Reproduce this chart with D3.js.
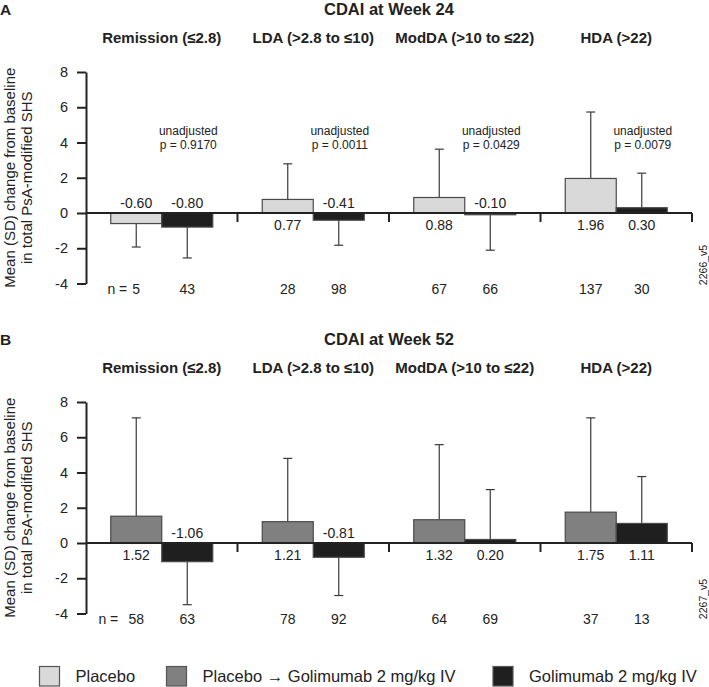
<!DOCTYPE html>
<html><head><meta charset="utf-8">
<script src="https://cdn.jsdelivr.net/npm/d3@7/dist/d3.min.js"></script>
<style>
html,body{margin:0;padding:0;background:#fff;}
text{font-family:"Liberation Sans",Arial,Helvetica,sans-serif;fill:#222;}
</style></head>
<body>
<svg id="chart" width="709" height="687"></svg>
<script>
// ---------------- data ----------------
const groups = ["Remission (≤2.8)", "LDA (>2.8 to ≤10)", "ModDA (>10 to ≤22)", "HDA (>22)"];
const yTicks = [-4, -2, 0, 2, 4, 6, 8];

// Panel A: CDAI at Week 24
const aTitle = "CDAI at Week 24";
const aPlaceboMean = [-0.60, 0.77, 0.88, 1.96];
const aPlaceboSD   = [1.33, 2.02, 2.74, 3.77];
const aGoliMean    = [-0.80, -0.41, -0.10, 0.30];
const aGoliSD      = [1.75, 1.42, 2.01, 1.96];
const aPlaceboN    = [5, 28, 67, 137];
const aGoliN       = [43, 98, 66, 30];
const aPValues     = ["p = 0.9170", "p = 0.0011", "p = 0.0429", "p = 0.0079"];

// Panel B: CDAI at Week 52
const bTitle = "CDAI at Week 52";
const bSwitchMean = [1.52, 1.21, 1.32, 1.75];
const bSwitchSD   = [5.58, 3.59, 4.26, 5.35];
const bGoliMean   = [-1.06, -0.81, 0.20, 1.11];
const bGoliSD     = [2.44, 2.17, 2.83, 2.66];
const bSwitchN    = [58, 78, 64, 37];
const bGoliN      = [63, 92, 69, 13];

const legendLabels = ["Placebo", "Placebo \u2192 Golimumab 2 mg/kg IV", "Golimumab 2 mg/kg IV"];
const colors = {placebo: "#d9d9d9", switch: "#808080", goli: "#1f1f1f"};

// ---------------- drawing ----------------
const svg = d3.select("#chart");
const plotLeft = 86, plotRight = 692;

const x0 = d3.scaleBand().domain(groups).range([plotLeft, plotRight]).paddingInner(0).paddingOuter(0);
const x1 = d3.scaleBand().domain(["s1", "s2"]).range([0, x0.bandwidth()]).paddingInner(0).paddingOuter(0.485);

function drawPanel(cfg) {
  const g = svg.append("g");
  const y = d3.scaleLinear().domain([-4, 8]).range([cfg.bottom, cfg.top]);
  const y0 = y(0);

  // panel letter and title
  g.append("text").attr("x", 0).attr("y", cfg.titleY).attr("dy", "0.36em")
    .style("font-size", "15.5px").style("font-weight", "bold").text(cfg.letter);
  g.append("text").attr("x", (plotLeft + plotRight) / 2).attr("y", cfg.titleY).attr("dy", "0.36em")
    .attr("text-anchor", "middle").style("font-size", "16.5px").style("font-weight", "bold").text(cfg.title);

  // group headers
  g.selectAll(".hdr").data(groups).enter().append("text")
    .attr("x", d => x0(d) + x0.bandwidth() / 2).attr("y", cfg.headerY).attr("dy", "0.36em")
    .attr("text-anchor", "middle").style("font-size", "15px").style("font-weight", "bold").text(d => d);

  // y axis
  const ax = g.append("g").attr("transform", `translate(${plotLeft},0)`)
    .call(d3.axisLeft(y).tickValues(yTicks).tickFormat(d => String(d))
      .tickSize(9).tickSizeOuter(0).tickPadding(9));
  ax.select(".domain").attr("stroke", "#222").attr("stroke-width", 2);
  ax.selectAll(".tick line").attr("stroke", "#222").attr("stroke-width", 2);
  ax.selectAll(".tick text").style("font-size", "14.5px").style("font-family", "Liberation Sans, Arial, sans-serif").attr("fill", "#222");

  // y label
  const midY = (cfg.top + cfg.bottom) / 2;
  const lab = g.append("text").attr("transform", `translate(0,${midY}) rotate(-90)`)
    .attr("text-anchor", "middle").style("font-size", "15px");
  lab.append("tspan").attr("x", 0).attr("y", 15).text("Mean (SD) change from baseline");
  lab.append("tspan").attr("x", 0).attr("y", 32).text("in total PsA-modified SHS");

  // bars data
  const rows = [];
  groups.forEach((grp, i) => {
    rows.push({grp, key: "s1", mean: cfg.s1Mean[i], sd: cfg.s1SD[i], n: cfg.s1N[i], color: cfg.s1Color, i});
    rows.push({grp, key: "s2", mean: cfg.s2Mean[i], sd: cfg.s2SD[i], n: cfg.s2N[i], color: colors.goli, i});
  });
  const cx = d => x0(d.grp) + x1(d.key) + x1.bandwidth() / 2;

  // error bars
  const eb = g.selectAll(".eb").data(rows).enter().append("g");
  eb.append("line")
    .attr("x1", cx).attr("x2", cx)
    .attr("y1", d => y(d.mean))
    .attr("y2", d => y(d.mean + Math.sign(d.mean) * d.sd))
    .attr("stroke", "#3a3a3a").attr("stroke-width", 1.2);
  eb.append("line")
    .attr("x1", d => cx(d) - 4.5).attr("x2", d => cx(d) + 4.5)
    .attr("y1", d => y(d.mean + Math.sign(d.mean) * d.sd))
    .attr("y2", d => y(d.mean + Math.sign(d.mean) * d.sd))
    .attr("stroke", "#3a3a3a").attr("stroke-width", 1.2);

  // bars
  g.selectAll(".bar").data(rows).enter().append("rect")
    .attr("x", d => x0(d.grp) + x1(d.key))
    .attr("width", x1.bandwidth())
    .attr("y", d => Math.min(y(d.mean), y0))
    .attr("height", d => Math.abs(y(d.mean) - y0))
    .attr("fill", d => d.color)
    .attr("stroke", "#4a4a4a").attr("stroke-width", 1.2);

  // zero line and group separator ticks
  g.append("line").attr("x1", plotLeft).attr("x2", plotRight).attr("y1", y0).attr("y2", y0)
    .attr("stroke", "#222").attr("stroke-width", 2);
  const seps = groups.slice(1).map(d => x0(d)).concat([plotRight]);
  g.selectAll(".sep").data(seps).enter().append("line")
    .attr("x1", d => d).attr("x2", d => d).attr("y1", y0).attr("y2", y0 + 9)
    .attr("stroke", "#222").attr("stroke-width", 2);

  // value labels
  g.selectAll(".val").data(rows).enter().append("text")
    .attr("x", cx)
    .attr("y", d => d.mean < 0 ? y0 - 10.5 : y0 + 12)
    .attr("dy", "0.36em").attr("text-anchor", "middle").style("font-size", "14px")
    .text(d => d.mean.toFixed(2));

  // n labels
  g.selectAll(".nl").data(rows).enter().append("text")
    .attr("x", cx).attr("y", cfg.bottom + 5.5).attr("dy", "0.36em")
    .attr("text-anchor", "middle").style("font-size", "14px").text(d => d.n);
  g.append("text").attr("x", cx(rows[0]) - cfg.nPrefixGap).attr("y", cfg.bottom + 5.5).attr("dy", "0.36em")
    .attr("text-anchor", "end").style("font-size", "14px").text("n =");

  // p-value annotations
  if (cfg.pValues) {
    groups.forEach((grp, i) => {
      const px = x0(grp) + x0.bandwidth() * 0.675;
      g.append("text").attr("x", px).attr("y", y0 - 82.5).attr("dy", "0.36em")
        .attr("text-anchor", "middle").style("font-size", "12px").text("unadjusted");
      g.append("text").attr("x", px).attr("y", y0 - 68.5).attr("dy", "0.36em")
        .attr("text-anchor", "middle").style("font-size", "12px").text(cfg.pValues[i]);
    });
  }

  // figure code
  g.append("text").attr("transform", `translate(703,${cfg.codeY}) rotate(-90)`)
    .attr("dy", "0.36em").attr("text-anchor", "middle").style("font-size", "10.5px").text(cfg.code);
}

drawPanel({
  letter: "A", title: aTitle, titleY: 9, headerY: 37.5, top: 72, bottom: 283.5,
  s1Mean: aPlaceboMean, s1SD: aPlaceboSD, s1N: aPlaceboN, s1Color: colors.placebo,
  s2Mean: aGoliMean, s2SD: aGoliSD, s2N: aGoliN,
  nPrefixGap: 9, pValues: aPValues, code: "2266_v5", codeY: 265
});
drawPanel({
  letter: "B", title: bTitle, titleY: 339, headerY: 368, top: 402, bottom: 613.5,
  s1Mean: bSwitchMean, s1SD: bSwitchSD, s1N: bSwitchN, s1Color: colors.switch,
  s2Mean: bGoliMean, s2SD: bGoliSD, s2N: bGoliN,
  nPrefixGap: 18, pValues: null, code: "2267_v5", codeY: 599
});

// legend
const legX = [39.5, 166.5, 493];
const legFill = [colors.placebo, colors.switch, colors.goli];
const leg = svg.append("g");
legendLabels.forEach((t, i) => {
  leg.append("rect").attr("x", legX[i]).attr("y", 666.5).attr("width", 20).attr("height", 19.5)
    .attr("fill", legFill[i]).attr("stroke", "#555").attr("stroke-width", 1.2);
  leg.append("text").attr("x", legX[i] + 36).attr("y", 676.5).attr("dy", "0.36em")
    .style("font-size", "16.5px").text(t);
});
</script>
</body></html>
